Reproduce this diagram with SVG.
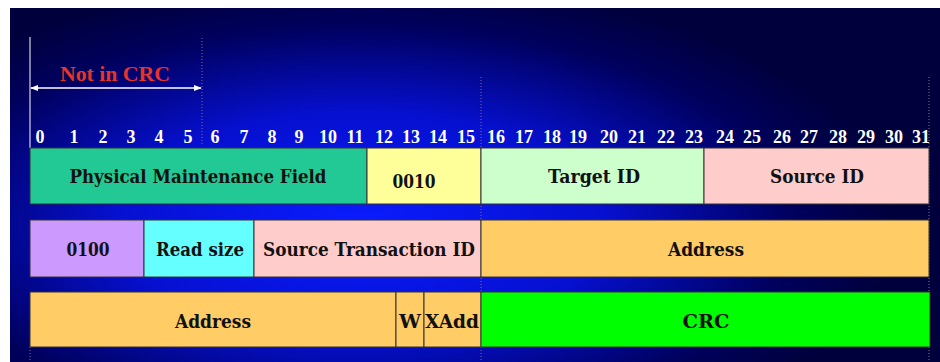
<svg xmlns="http://www.w3.org/2000/svg" width="940" height="362" viewBox="0 0 940 362">
<style>
.cell{stroke:#333;stroke-width:1}
.lbl{font-family:"DejaVu Serif","Liberation Serif",serif;font-weight:bold;font-size:18px;fill:#111;text-anchor:middle}
.num{font-family:"Liberation Serif",serif;font-weight:bold;font-size:18px;fill:#fff;text-anchor:middle}
.dot{stroke:#8a6a8a;stroke-width:1;stroke-dasharray:1 2;fill:none}
</style>
<defs>
<radialGradient id="bg" cx="360" cy="225" r="540" gradientUnits="userSpaceOnUse" gradientTransform="translate(360 225) scale(1 0.46) translate(-360 -225)">
<stop offset="0" stop-color="#0a1cff"/>
<stop offset="0.45" stop-color="#0610d0"/>
<stop offset="0.8" stop-color="#00005e"/>
<stop offset="1" stop-color="#00003c"/>
</radialGradient>
<marker id="ah" viewBox="0 0 10 10" refX="9" refY="5" markerWidth="8" markerHeight="8" orient="auto-start-reverse" markerUnits="userSpaceOnUse">
<path d="M0,1 L10,5 L0,9 z" fill="#fff"/>
</marker>
</defs>
<rect width="940" height="362" fill="#fff"/>
<rect x="10" y="8" width="930" height="354" fill="url(#bg)"/>
<g id="connectors">
<line x1="30" y1="37" x2="30" y2="148" stroke="#fff" stroke-width="1"/>
<line class="dot" x1="202" y1="38" x2="202" y2="145"/>
<line class="dot" x1="481" y1="77" x2="481" y2="362"/>
<line class="dot" x1="929" y1="77" x2="929" y2="362"/>
<line class="dot" x1="30" y1="347" x2="30" y2="362"/>
<line x1="31" y1="88" x2="201" y2="88" stroke="#fff" stroke-width="1.5" marker-start="url(#ah)" marker-end="url(#ah)"/>
</g>
<text x="115" y="81" font-family="Liberation Serif,serif" font-weight="bold" font-size="20" fill="#e8322a" text-anchor="middle" textLength="110" lengthAdjust="spacingAndGlyphs">Not in CRC</text>
<g id="bits">
<text class="num" x="40" y="143">0</text>
<text class="num" x="74" y="143">1</text>
<text class="num" x="103" y="143">2</text>
<text class="num" x="131" y="143">3</text>
<text class="num" x="159" y="143">4</text>
<text class="num" x="188" y="143">5</text>
<text class="num" x="215" y="143">6</text>
<text class="num" x="244" y="143">7</text>
<text class="num" x="272" y="143">8</text>
<text class="num" x="299" y="143">9</text>
<text class="num" x="328" y="143">10</text>
<text class="num" x="355" y="143">11</text>
<text class="num" x="384" y="143">12</text>
<text class="num" x="411" y="143">13</text>
<text class="num" x="438" y="143">14</text>
<text class="num" x="466" y="143">15</text>
<text class="num" x="496" y="143">16</text>
<text class="num" x="524" y="143">17</text>
<text class="num" x="552" y="143">18</text>
<text class="num" x="578" y="143">19</text>
<text class="num" x="609" y="143">20</text>
<text class="num" x="637" y="143">21</text>
<text class="num" x="666" y="143">22</text>
<text class="num" x="694" y="143">23</text>
<text class="num" x="725" y="143">24</text>
<text class="num" x="752" y="143">25</text>
<text class="num" x="782" y="143">26</text>
<text class="num" x="809" y="143">27</text>
<text class="num" x="838" y="143">28</text>
<text class="num" x="866" y="143">29</text>
<text class="num" x="894" y="143">30</text>
<text class="num" x="921" y="143">31</text>
</g>
<g id="pmf"><rect class="cell" x="30" y="148" width="337" height="56" fill="#22c994"/><text class="lbl" x="198" y="183" textLength="257" lengthAdjust="spacingAndGlyphs">Physical Maintenance Field</text></g>
<g id="f0010"><rect class="cell" x="367" y="148" width="114" height="56" fill="#ffff99"/><text class="lbl" x="414" y="188" textLength="43" lengthAdjust="spacingAndGlyphs">0010</text></g>
<g id="target"><rect class="cell" x="481" y="148" width="223" height="56" fill="#ccffcc"/><text class="lbl" x="594" y="183" textLength="92" lengthAdjust="spacingAndGlyphs">Target ID</text></g>
<g id="source"><rect class="cell" x="704" y="148" width="225" height="56" fill="#ffcccc"/><text class="lbl" x="817" y="183" textLength="94" lengthAdjust="spacingAndGlyphs">Source ID</text></g>
<g id="f0100"><rect class="cell" x="30" y="220" width="114" height="57" fill="#cc99ff"/><text class="lbl" x="88" y="256" textLength="43" lengthAdjust="spacingAndGlyphs">0100</text></g>
<g id="readsize"><rect class="cell" x="144" y="220" width="110" height="57" fill="#66ffff"/><text class="lbl" x="200" y="256" textLength="88" lengthAdjust="spacingAndGlyphs">Read size</text></g>
<g id="stid"><rect class="cell" x="254" y="220" width="227" height="57" fill="#ffcccc"/><text class="lbl" x="369" y="256" textLength="212" lengthAdjust="spacingAndGlyphs">Source Transaction ID</text></g>
<g id="addr1"><rect class="cell" x="481" y="220" width="448" height="57" fill="#ffcc66"/><text class="lbl" x="706" y="256" textLength="76" lengthAdjust="spacingAndGlyphs">Address</text></g>
<g id="addr2"><rect class="cell" x="30" y="292" width="366" height="55" fill="#ffcc66"/><text class="lbl" x="213" y="328" textLength="76" lengthAdjust="spacingAndGlyphs">Address</text></g>
<g id="w"><rect class="cell" x="396" y="292" width="28" height="55" fill="#ffcc66"/><text class="lbl" x="410" y="328" textLength="22" lengthAdjust="spacingAndGlyphs">W</text></g>
<g id="xadd"><rect class="cell" x="424" y="292" width="57" height="55" fill="#ffcc66"/><text class="lbl" x="452" y="328" textLength="54" lengthAdjust="spacingAndGlyphs">XAdd</text></g>
<g id="crc"><rect class="cell" x="481" y="292" width="449" height="55" fill="#00ff00"/><text class="lbl" x="706" y="328" textLength="47" lengthAdjust="spacingAndGlyphs">CRC</text></g>
</svg>
